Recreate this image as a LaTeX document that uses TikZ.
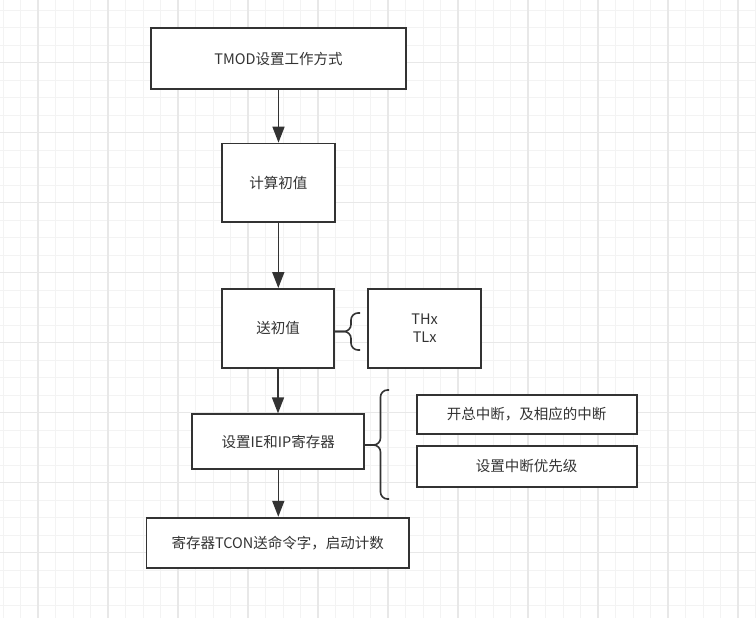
\documentclass[tikz,border=0pt]{standalone}
\usepackage{fontspec}
\setmainfont{Noto Sans CJK SC}
\usetikzlibrary{arrows.meta}
\definecolor{ink}{HTML}{333333}
\definecolor{gridminor}{HTML}{F3F3F3}
\definecolor{gridmajor}{HTML}{E8E8E8}

\begin{document}
\begin{tikzpicture}[x=1pt,y=-1pt,
  box/.style={draw=ink, line width=1.8pt, fill=white, text=ink,
    font=\fontsize{14.5}{18}\selectfont, align=center, inner sep=0pt},
  flow/.style={draw=ink, line width=1.6pt, -{Triangle[length=16pt,width=12pt]}},
  brace/.style={draw=ink, line width=1.6pt, rounded corners=7pt}]

\useasboundingbox (0,0) rectangle (756,618);
\fill[white] (0,0) rectangle (756,618);

\foreach \i in {0,...,43} {
    \draw[gridminor, line width=1pt] (3+17.5*\i,0) -- (3+17.5*\i,618);
}
\foreach \j in {0,...,34} {
    \draw[gridminor, line width=1pt] (0,10.2+17.5*\j) -- (756,10.2+17.5*\j);
}
\foreach \i in {0,...,10} {
    \draw[gridmajor, line width=1.2pt] (38+70*\i,0) -- (38+70*\i,618);
}
\foreach \j in {0,...,7} {
    \draw[gridmajor, line width=1.2pt] (0,62.7+70*\j) -- (756,62.7+70*\j);
}

\node[box, minimum width=255pt, minimum height=61pt]   (tmod) at (278.5,58.5)  {TMOD设置工作方式};
\node[box, minimum width=112.7pt, minimum height=78.5pt] (jsz)  at (278.3,182.8) {计算初值};
\node[box, minimum width=112.7pt, minimum height=78.7pt] (init) at (278,328.3)   {送初值};
\node[box, minimum width=112.7pt, minimum height=78.7pt] (thl)  at (424.7,328.3) {THx\\TLx};
\node[box, minimum width=172pt, minimum height=55pt]   (ieip) at (278.3,441.8) {设置IE和IP寄存器};
\node[box, minimum width=220pt, minimum height=39pt]   (enint) at (526.7,414.5) {开总中断，及相应的中断};
\node[box, minimum width=220pt, minimum height=40.7pt] (prio) at (526.7,466.3) {设置中断优先级};
\node[box, minimum width=262.6pt, minimum height=50pt] (tcon) at (277.7,542.7)   {寄存器TCON送命令字，启动计数};

\draw[flow] (tmod) -- (tmod |- jsz.north);
\draw[flow] (jsz) -- (jsz |- init.north);
\draw[flow] (init) -- (init |- ieip.north);
\draw[flow] (ieip) -- (ieip |- tcon.north);

\draw[brace] (360,313) -- (351,313) -- (351,331.5) -- (334.3,331.5);
\draw[brace] (360,350) -- (351,350) -- (351,331.5) -- (334.3,331.5);

\draw[brace] (389,390) -- (380.5,390) -- (380.5,445) -- (364.3,445);
\draw[brace] (389,499) -- (380.5,499) -- (380.5,445) -- (364.3,445);

\end{tikzpicture}
\end{document}
